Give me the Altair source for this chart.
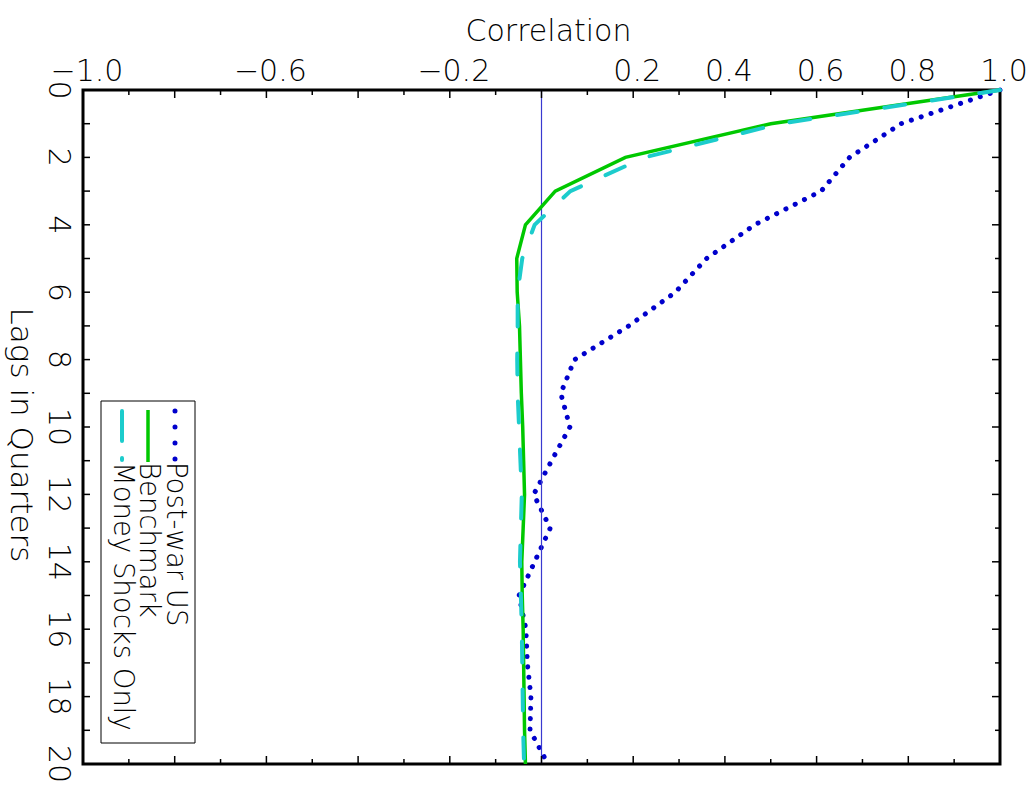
import altair as alt
import pandas as pd

# ---- data ----
lags = list(range(21))
post_war_us = [1.0, 0.784, 0.672, 0.61, 0.465, 0.360, 0.292, 0.19, 0.072, 0.042,
               0.062, 0.022, -0.017, 0.019, -0.015, -0.049, -0.034, -0.031, -0.023, -0.025, 0.014]
benchmark = [1.0, 0.50, 0.183, 0.030, -0.035, -0.054, -0.053, -0.048, -0.046, -0.044,
             -0.041, -0.039, -0.037, -0.040, -0.043, -0.042, -0.040, -0.039, -0.038, -0.037, -0.035]
money_shocks_only = [1.0, 0.52, 0.225, 0.063, -0.015, -0.042, -0.052, -0.052, -0.053, -0.052,
                     -0.049, -0.046, -0.043, -0.045, -0.047, -0.045, -0.043, -0.042, -0.041, -0.040, -0.038]
series_names = ["Post-war US", "Benchmark", "Money Shocks Only"]

x_major = [-1.0, -0.8, -0.6, -0.4, -0.2, 0.0, 0.2, 0.4, 0.6, 0.8, 1.0]
x_minor = [-0.9, -0.7, -0.5, -0.3, -0.1, 0.1, 0.3, 0.5, 0.7, 0.9]
x_labels = [-1.0, -0.6, -0.2, 0.2, 0.4, 0.6, 0.8, 1.0]
y_major = [0, 2, 4, 6, 8, 10, 12, 14, 16, 18, 20]
y_minor = [1, 3, 5, 7, 9, 11, 13, 15, 17, 19]
zero_line = [0.0]
x_title = "Correlation"
y_title = "Lags in Quarters"

W, H = 917, 674
FONT = "DejaVu Sans"
FW = 200
FS = 30

df = pd.DataFrame({
    "lag": lags * 3,
    "corr": post_war_us + benchmark + money_shocks_only,
    "series": [n for n in series_names for _ in lags],
})

xs = alt.Scale(domain=[-1, 1], nice=False, zero=False)
ys = alt.Scale(domain=[0, 20], nice=False, zero=False, reverse=True)

X = alt.X("corr:Q", scale=xs, axis=None)
Y = alt.Y("lag:Q", scale=ys, axis=None)

blue = alt.Chart(df).transform_filter(alt.datum.series == series_names[0]).mark_line(
    color="#0000cc", strokeWidth=5, strokeDash=[0.1, 10.3], strokeCap="round"
).encode(x=X, y=Y, order="lag:Q")

green = alt.Chart(df).transform_filter(alt.datum.series == series_names[1]).mark_line(
    color="#00c800", strokeWidth=3.5
).encode(x=X, y=Y, order="lag:Q")

cyan = alt.Chart(df).transform_filter(alt.datum.series == series_names[2]).mark_line(
    color="#1ccccc", strokeWidth=4, strokeDash=[21, 27], strokeCap="round"
).encode(x=X, y=Y, order="lag:Q")

zero = alt.Chart(pd.DataFrame({"v": zero_line})).mark_rule(color="#3a3ad0", strokeWidth=1.2).encode(
    x=alt.X("v:Q", scale=xs, axis=None), y=alt.value(0), y2=alt.value(H))


def xticks(vals, y0, y1):
    return alt.Chart(pd.DataFrame({"v": vals})).mark_rule(color="black", strokeWidth=1.5).encode(
        x=alt.X("v:Q", scale=xs, axis=None), y=alt.value(y0), y2=alt.value(y1))


def yticks(vals, x0, x1):
    return alt.Chart(pd.DataFrame({"v": vals})).mark_rule(color="black", strokeWidth=1.5).encode(
        y=alt.Y("v:Q", scale=ys, axis=None), x=alt.value(x0), x2=alt.value(x1))


ticks = [
    xticks(x_major, 0, 8), xticks(x_minor, 0, 5),
    xticks(x_major, H, H - 8), xticks(x_minor, H, H - 5),
    yticks(y_major, 0, 7), yticks(y_minor, 0, 7),
    yticks(y_major, W, W - 8), yticks(y_minor, W, W - 5),
]

# ---- axis labels and titles ----
xlab = alt.Chart(pd.DataFrame({"v": x_labels})).transform_calculate(
    t="format(datum.v, '.1f')"
).mark_text(font=FONT, fontWeight=FW, fontSize=FS, color="black", baseline="alphabetic",
            align="center", dx=4).encode(
    x=alt.X("v:Q", scale=xs, axis=None), y=alt.value(-9), text="t:N")

ylab = alt.Chart(pd.DataFrame({"v": y_major})).transform_calculate(
    t="format(datum.v, 'd')"
).mark_text(font=FONT, fontWeight=FW, fontSize=FS, color="black", baseline="top",
            align="center", angle=90).encode(
    y=alt.Y("v:Q", scale=ys, axis=None), x=alt.value(-10), text="t:N")

one = pd.DataFrame({"a": [0]})
xtitle = alt.Chart(one).mark_text(font=FONT, fontWeight=FW, fontSize=FS, color="black",
                                  baseline="alphabetic", align="center", text=x_title).encode(
    x=alt.value(W / 2 + 7), y=alt.value(-49))
ytitle = alt.Chart(one).mark_text(font=FONT, fontWeight=FW, fontSize=31, color="black",
                                  baseline="middle", align="center", angle=90, text=y_title).encode(
    x=alt.value(-63), y=alt.value(H / 2 + 8))

# ---- legend (rotated, drawn by hand) ----
box = alt.Chart(one).mark_rect(fill="white", stroke="black", strokeWidth=1).encode(
    x=alt.value(18), x2=alt.value(112), y=alt.value(311), y2=alt.value(653))
leg_x = [92, 65, 39]
leg_blue = alt.Chart(one).mark_rule(color="#0000cc", strokeWidth=5, strokeDash=[0.1, 15.9],
                                    strokeCap="round").encode(
    x=alt.value(leg_x[0]), y=alt.value(321), y2=alt.value(370))
leg_green = alt.Chart(one).mark_rule(color="#00c800", strokeWidth=3.5).encode(
    x=alt.value(leg_x[1]), y=alt.value(320), y2=alt.value(372))
leg_cyan = alt.Chart(one).mark_rule(color="#1ccccc", strokeWidth=4, strokeDash=[30, 17],
                                    strokeCap="round").encode(
    x=alt.value(leg_x[2]), y=alt.value(321), y2=alt.value(370))
leg_df = pd.DataFrame({"name": series_names, "px": leg_x})
leg_text = alt.Chart(leg_df).mark_text(angle=90, align="left", baseline="middle", font=FONT,
                                       fontWeight=FW, fontSize=27.5, color="black").encode(
    x=alt.X("px:Q", scale=None, axis=None), y=alt.value(372), text="name:N")

chart = alt.layer(
    blue, zero, *ticks, green, cyan, box, leg_blue, leg_green, leg_cyan, leg_text,
    xlab, ylab, xtitle, ytitle
).properties(
    width=W, height=H,
    padding={"left": 83, "top": 90, "right": 29, "bottom": 24},
    autosize=alt.AutoSizeParams(type="none"),
    background="white",
).configure_view(stroke="black", strokeWidth=3)

chart.save("out.html", embed_options={"renderer": "svg", "actions": False})
